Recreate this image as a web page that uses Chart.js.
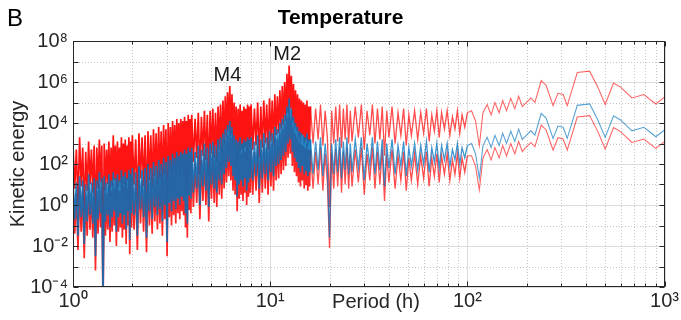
<!DOCTYPE html>
<html>
<head>
<meta charset="utf-8">
<script src="https://cdn.jsdelivr.net/npm/chart.js@4.4.1/dist/chart.umd.min.js"></script>
<style>
  html, body { margin: 0; padding: 0; background: #fff; }
  #wrap { width: 681px; height: 320px; }
</style>
</head>
<body>
<div id="wrap"><canvas id="c" width="681" height="320"></canvas></div>
<script>
// period (h) of each spectral estimate
const periods = [
  1, 1.02, 1.04, 1.06, 1.08, 1.1, 1.12, 1.14, 1.16, 1.18,
  1.2, 1.22, 1.24, 1.26, 1.28, 1.3, 1.32, 1.34, 1.36, 1.38,
  1.4, 1.42, 1.44, 1.46, 1.48, 1.5, 1.52, 1.54, 1.56, 1.58,
  1.6, 1.62, 1.64, 1.66, 1.68, 1.7, 1.72, 1.74, 1.76, 1.78,
  1.8, 1.82, 1.84, 1.86, 1.88, 1.9, 1.92, 1.94, 1.96, 1.98,
  2, 2.04, 2.08, 2.12, 2.16, 2.2, 2.24, 2.28, 2.32, 2.36,
  2.4, 2.44, 2.48, 2.52, 2.56, 2.6, 2.64, 2.68, 2.72, 2.76,
  2.8, 2.84, 2.88, 2.92, 2.96, 3, 3.04, 3.08, 3.12, 3.16,
  3.2, 3.24, 3.28, 3.32, 3.36, 3.4, 3.44, 3.48, 3.52, 3.56,
  3.6, 3.64, 3.68, 3.72, 3.76, 3.8, 3.84, 3.88, 3.92, 3.96,
  4, 4.08, 4.16, 4.24, 4.32, 4.4, 4.48, 4.56, 4.64, 4.72,
  4.8, 4.88, 4.96, 5.04, 5.12, 5.2, 5.28, 5.36, 5.44, 5.52,
  5.6, 5.68, 5.76, 5.84, 5.92, 6, 6.08, 6.16, 6.24, 6.32,
  6.4, 6.48, 6.56, 6.64, 6.72, 6.8, 6.88, 6.96, 7.04, 7.12,
  7.2, 7.28, 7.36, 7.44, 7.52, 7.6, 7.68, 7.76, 7.84, 7.92,
  8, 8.16, 8.32, 8.48, 8.64, 8.8, 8.96, 9.12, 9.28, 9.44,
  9.6, 9.76, 9.92, 10.08, 10.24, 10.4, 10.56, 10.72, 10.88, 11.04,
  11.2, 11.36, 11.52, 11.68, 11.84, 12, 12.16, 12.32, 12.48, 12.64,
  12.8, 12.96, 13.12, 13.28, 13.44, 13.6, 13.76, 13.92, 14.08, 14.24,
  14.4, 14.56, 14.72, 14.88, 15.04, 15.2, 15.36, 15.52, 15.68, 15.84,
  16, 16.5, 17, 17.5, 18, 18.5, 19, 19.5, 20, 20.5,
  21, 21.5, 22, 22.5, 23, 23.5, 24, 24.5, 25, 25.5,
  26, 27, 28, 29, 30, 31, 32, 33, 34, 35,
  36, 37, 38, 39, 40, 41.5, 43, 44.5, 46, 47.5,
  49, 50.5, 52, 54, 56, 58, 60, 62, 64, 66,
  68, 70, 72, 74, 76.5, 79, 81.5, 84, 86.5, 89,
  91.5, 94, 97, 100,
  105, 110, 115, 120, 126, 132, 138, 145, 151, 158,
  166, 174, 182, 190, 196, 210, 220, 237, 251, 272,
  288, 306, 321, 361, 417, 459, 500, 551, 598, 683,
  785, 903, 1000
];

// log10 of kinetic energy: spectrum (blue)
const spectrumLog = [
  1.3, -0.7, 1.1, -1.5, 1.4, -0.6, 1.2, -1.9, 1.0, -0.8,
  1.5, -0.5, 1.1, -0.9, 1.3, -2.5, 1.2, -0.7, 1.6, -0.4,
  1.3, -4.5, 1.4, -0.8, 1.1, -0.5, 1.5, -1.1, 1.2, -0.6,
  1.6, -0.3, 1.3, -1.3, 1.5, -0.6, 1.2, -0.4, 1.7, -0.9,
  1.4, -0.5, 1.6, -1.2, 1.3, -0.3, 1.7, -1.7, 1.5, -0.4,
  1.8, -0.5, 1.6, -1.5, 1.9, -0.2, 1.7, -0.6, 1.8, -1.6,
  2.0, -0.3, 1.8, -0.7, 2.1, -0.1, 1.9, -0.5, 2.2, -0.2,
  2.0, -0.8, 2.3, 0.0, 2.1, -1.8, 2.4, 0.1, 2.2, -0.3,
  2.5, 0.2, 2.3, -0.2, 2.6, 0.3, 2.4, 0.0, 2.6, 0.4,
  2.5, 0.2, 2.7, -0.4, 2.5, -0.9, 2.8, 0.5, 2.6, 0.3,
  2.8, 0.6, 2.6, 0.8, 2.9, 0.0, 2.7, 0.9, 3.0, 0.7,
  2.8, -0.1, 3.0, 1.0, 3.1, 0.8, 2.9, 0.6, 3.2, 1.2,
  3.3, 1.0, 3.5, 1.5, 3.7, 1.8, 3.9, 2.1, 4.1, 1.9,
  3.8, 1.4, 3.4, 1.2, 3.2, 0.4, 3.1, 1.0, 3.3, 1.2,
  3.0, 0.9, 3.2, 1.3, 3.1, 0.7, 3.3, 1.1, 3.2, 1.3,
  3.3, 1.2, 3.1, 1.4, 3.4, 0.8, 3.2, 1.3, 3.5, 1.5,
  3.3, 1.2, 3.6, 1.6, 3.5, 1.4, 3.8, 1.9, 3.7, 2.0,
  4.0, 2.2, 4.2, 2.4, 4.4, 2.6, 4.8, 3.0, 5.2, 3.2,
  4.7, 2.6, 4.3, 2.3, 4.0, 2.1, 3.8, 1.8, 3.6, 1.6,
  3.5, 1.9, 3.4, 1.5, 3.3, 1.7, 3.5, 1.4, 3.2, 1.6,
  3.2, 1.5, 3.1, 1.7, 3.3, 1.4, 3.0, 1.8, -1.6, 3.0,
  1.5, 3.2, 1.6, 3.3, 1.3, 3.1, 1.7, 3.3, 1.5, 3.0,
  1.6, 3.2, 1.8, 3.3, 1.2, 3.0, 1.9, 3.3, 1.5, 3.1,
  1.7, 3.2, 0.9, 3.0, 1.8, 3.2, 1.5, 2.9, 1.9, 3.1,
  1.4, 2.8, 1.9, 3.0, 1.7, 2.9, 2.0, 3.1, 1.6, 2.8,
  2.1, 3.0, 1.8, 2.9, 2.2, 3.0, 1.9, 2.7, 2.2, 3.0,
  2.0, 2.8, 2.3, 2.9,
  3.0, 2.5, 1.3, 2.9, 3.3, 2.8, 3.4, 2.9, 3.5, 3.0,
  3.6, 3.1, 3.7, 3.2, 3.33, 3.62, 3.41, 4.47, 4.23, 3.25,
  3.85, 3.79, 3.25, 4.86, 4.93, 4.15, 3.30, 4.35, 4.15, 3.62,
  3.79, 3.33, 3.66
];

// log10 of upper confidence bound (red)
const upperLog = [
  2.9, 0.8, 2.7, 0.0, 3.3, 0.9, 2.8, -0.4, 2.6, 0.7,
  3.1, 1.0, 2.7, 0.6, 2.9, -1.0, 2.8, 0.8, 3.2, 1.1,
  2.9, -3.0, 3.0, 0.7, 2.7, 1.0, 3.1, 0.4, 2.8, 0.9,
  3.4, 1.2, 2.9, 0.2, 3.1, 0.9, 2.8, 1.1, 3.3, 0.6,
  3.0, 1.0, 3.2, 0.3, 2.9, 1.2, 3.3, -0.2, 3.1, 1.1,
  3.4, 1.0, 3.2, 0.0, 3.5, 1.3, 3.3, 0.9, 3.4, -0.1,
  3.6, 1.2, 3.4, 0.8, 3.7, 1.4, 3.5, 1.0, 3.8, 1.3,
  3.6, 0.7, 3.9, 1.5, 3.7, -0.3, 4.0, 1.6, 3.8, 1.2,
  4.1, 1.7, 3.9, 1.3, 4.2, 1.8, 4.0, 1.5, 4.2, 1.9,
  4.1, 1.7, 4.3, 1.1, 4.1, 0.6, 4.4, 2.0, 4.2, 1.8,
  4.4, 2.1, 4.2, 2.3, 4.5, 1.5, 4.3, 2.4, 4.6, 2.2,
  4.4, 1.4, 4.6, 2.5, 4.7, 2.3, 4.5, 2.1, 4.8, 2.7,
  4.9, 2.5, 5.1, 3.0, 5.3, 3.3, 5.5, 3.6, 5.8, 3.4,
  5.4, 2.9, 5.0, 2.7, 4.8, 1.9, 4.7, 2.5, 4.9, 2.7,
  4.6, 2.4, 4.8, 2.8, 4.7, 2.2, 4.9, 2.6, 4.8, 2.8,
  4.9, 2.7, 4.7, 2.9, 5.0, 2.3, 4.8, 2.8, 5.1, 3.0,
  4.9, 2.7, 5.2, 3.1, 5.1, 2.9, 5.4, 3.4, 5.3, 3.5,
  5.6, 3.7, 5.8, 3.9, 6.0, 4.1, 6.4, 4.5, 6.8, 4.7,
  6.3, 4.1, 5.9, 3.8, 5.6, 3.6, 5.4, 3.3, 5.2, 3.1,
  5.1, 3.4, 5.0, 3.0, 4.9, 3.2, 5.1, 2.9, 4.8, 3.1,
  4.8, 3.0, 4.7, 3.2, 4.9, 2.9, 4.6, 3.3, -0.1, 4.6,
  3.0, 4.8, 3.1, 4.9, 2.8, 4.7, 3.2, 4.9, 3.0, 4.6,
  3.1, 4.8, 3.3, 4.9, 2.7, 4.6, 3.4, 4.9, 3.0, 4.7,
  3.2, 4.8, 2.4, 4.6, 3.3, 4.8, 3.0, 4.5, 3.4, 4.7,
  2.9, 4.4, 3.4, 4.6, 3.2, 4.5, 3.5, 4.7, 3.1, 4.4,
  3.6, 4.6, 3.3, 4.5, 3.7, 4.6, 3.4, 4.3, 3.7, 4.6,
  3.5, 4.4, 3.8, 4.5,
  4.6, 4.1, 2.9, 4.5, 4.9, 4.4, 5.0, 4.5, 5.1, 4.6,
  5.2, 4.7, 5.3, 4.8, 4.93, 5.22, 5.01, 6.07, 5.83, 4.85,
  5.45, 5.39, 4.85, 6.46, 6.53, 5.75, 4.9, 5.95, 5.75, 5.22,
  5.39, 4.93, 5.26
];

// log10 of lower confidence bound (red)
const lowerLog = [
  0.8, -1.4, 0.6, -2.2, 0.9, -1.3, 0.7, -2.6, 0.5, -1.5,
  1.0, -1.2, 0.6, -1.6, 0.8, -3.2, 0.7, -1.4, 1.1, -1.1,
  0.8, -5.2, 0.9, -1.5, 0.6, -1.2, 1.0, -1.8, 0.7, -1.3,
  1.1, -1.0, 0.8, -2.0, 1.0, -1.3, 0.7, -1.1, 1.2, -1.6,
  0.9, -1.2, 1.1, -1.9, 0.8, -1.0, 1.2, -2.4, 1.0, -1.1,
  1.3, -1.2, 1.1, -2.2, 1.4, -0.9, 1.2, -1.3, 1.3, -2.3,
  1.5, -1.0, 1.3, -1.4, 1.6, -0.8, 1.4, -1.2, 1.7, -0.9,
  1.5, -1.5, 1.8, -0.7, 1.6, -2.5, 1.9, -0.6, 1.7, -1.0,
  2.0, -0.5, 1.8, -0.9, 2.1, -0.4, 1.9, -0.7, 2.1, -0.3,
  2.0, -0.5, 2.2, -1.1, 2.0, -1.6, 2.3, -0.2, 2.1, -0.4,
  2.3, -0.1, 2.1, 0.1, 2.4, -0.7, 2.2, 0.2, 2.5, 0.0,
  2.3, -0.8, 2.5, 0.3, 2.6, 0.1, 2.4, -0.1, 2.7, 0.5,
  2.8, 0.3, 3.0, 0.8, 3.2, 1.1, 3.4, 1.4, 3.6, 1.2,
  3.3, 0.7, 2.9, 0.5, 2.7, -0.3, 2.6, 0.3, 2.8, 0.5,
  2.5, 0.2, 2.7, 0.6, 2.6, 0.0, 2.8, 0.4, 2.7, 0.6,
  2.8, 0.5, 2.6, 0.7, 2.9, 0.1, 2.7, 0.6, 3.0, 0.8,
  2.8, 0.5, 3.1, 0.9, 3.0, 0.7, 3.3, 1.2, 3.2, 1.3,
  3.5, 1.5, 3.7, 1.7, 3.9, 1.9, 4.3, 2.3, 4.7, 2.5,
  4.2, 1.9, 3.8, 1.6, 3.5, 1.4, 3.3, 1.1, 3.1, 0.9,
  3.0, 1.2, 2.9, 0.8, 2.8, 1.0, 3.0, 0.7, 2.7, 0.9,
  2.7, 0.8, 2.6, 1.0, 2.8, 0.7, 2.5, 1.1, -2.1, 2.5,
  0.8, 2.7, 0.9, 2.8, 0.6, 2.6, 1.0, 2.8, 0.8, 2.5,
  0.9, 2.7, 1.1, 2.8, 0.5, 2.5, 1.2, 2.8, 0.8, 2.6,
  1.0, 2.7, 0.2, 2.5, 1.1, 2.7, 0.8, 2.4, 1.2, 2.6,
  0.7, 2.3, 1.2, 2.5, 1.0, 2.4, 1.3, 2.6, 0.9, 2.3,
  1.4, 2.5, 1.1, 2.4, 1.5, 2.5, 1.2, 2.2, 1.5, 2.5,
  1.3, 2.3, 1.6, 2.4,
  2.4, 1.9, 0.73, 2.3, 2.7, 2.2, 2.8, 2.3, 2.9, 2.4,
  3.0, 2.5, 3.1, 2.6, 2.76, 3.05, 2.84, 3.9, 3.66, 2.68,
  3.28, 3.22, 2.68, 4.29, 4.36, 3.58, 2.73, 3.78, 3.58, 3.05,
  3.22, 2.76, 3.09
];

const xTickValues = [1, 2, 3, 4, 5, 6, 7, 8, 9, 10, 20, 30, 40, 50, 60, 70, 80, 90,
  100, 200, 300, 400, 500, 600, 700, 800, 900, 1000];
const yTickExps = [-4, -3, -2, -1, 0, 1, 2, 3, 4, 5, 6, 7, 8];

// tidal peak labels: period (h), log10 position
const peakNames = ['M4', 'M2'];
const peakPeriods = [6.07, 12.2];
const peakLogY = [6.34, 7.32];

const FONT = "'Liberation Sans', Arial, Helvetica, sans-serif";
const SUP = {'-': '\u207B', '0': '\u2070', '1': '\u00B9', '2': '\u00B2', '3': '\u00B3',
  '4': '\u2074', '5': '\u2075', '6': '\u2076', '7': '\u2077', '8': '\u2078', '9': '\u2079'};
const pow10Label = e => '10' + String(e).split('').map(c => SUP[c]).join('');
const decadeOf = v => {
  const e = Math.round(Math.log10(v));
  return Math.abs(v - Math.pow(10, e)) / v < 1e-6 ? e : null;
};

const toPoints = logs => periods.map((p, i) => ({x: p, y: Math.pow(10, logs[i])}));

// short periods are overplotted in the original, so draw them heavier
const segStyle = (dense, mid, thin) => ({
  borderColor: ctx => ctx.p0.parsed.x < 16 ? dense : (ctx.p0.parsed.x < 100 ? mid : thin),
  borderWidth: ctx => ctx.p0.parsed.x < 16 ? 1.7 : (ctx.p0.parsed.x < 100 ? 1.3 : 1.1)
});

const frame = {
  id: 'frame',
  beforeDatasetsDraw(chart) {
    const {ctx, chartArea: a, scales: {x, y}} = chart;
    ctx.save();
    ctx.lineWidth = 1;
    xTickValues.forEach(v => {
      const px = Math.round(x.getPixelForValue(v)) + 0.5;
      const major = decadeOf(v) !== null;
      ctx.strokeStyle = major ? '#dcdcdc' : '#c6c6c6';
      ctx.setLineDash(major ? [] : [1, 2]);
      ctx.beginPath(); ctx.moveTo(px, a.top); ctx.lineTo(px, a.bottom); ctx.stroke();
    });
    yTickExps.forEach(e => {
      const py = Math.round(y.getPixelForValue(Math.pow(10, e))) + 0.5;
      const major = e % 2 === 0;
      ctx.strokeStyle = major ? '#dcdcdc' : '#c6c6c6';
      ctx.setLineDash(major ? [] : [1, 2]);
      ctx.beginPath(); ctx.moveTo(a.left, py); ctx.lineTo(a.right, py); ctx.stroke();
    });
    ctx.restore();
  },
  afterDatasetsDraw(chart) {
    const {ctx, chartArea: a, scales: {x, y}} = chart;
    ctx.save();
    ctx.strokeStyle = '#262626';
    ctx.lineWidth = 1;
    const L = Math.round(a.left) + 0.5, R = Math.round(a.right) - 0.5;
    const T = Math.round(a.top) + 0.5, B = Math.round(a.bottom) - 0.5;
    ctx.strokeRect(L, T, R - L, B - T);
    ctx.beginPath();
    xTickValues.forEach(v => {
      const px = Math.round(x.getPixelForValue(v)) + 0.5;
      const len = decadeOf(v) !== null ? 5 : 3;
      ctx.moveTo(px, B); ctx.lineTo(px, B - len);
      ctx.moveTo(px, T); ctx.lineTo(px, T + len);
    });
    yTickExps.forEach(e => {
      const py = Math.round(y.getPixelForValue(Math.pow(10, e))) + 0.5;
      ctx.moveTo(L, py); ctx.lineTo(L + 5, py);
      ctx.moveTo(R, py); ctx.lineTo(R - 5, py);
    });
    ctx.stroke();
    ctx.restore();
  },
  afterDraw(chart) {
    const {ctx, chartArea: a, scales: {x, y}} = chart;
    ctx.save();
    ctx.fillStyle = '#000';
    ctx.textBaseline = 'middle';
    ctx.textAlign = 'left';
    ctx.font = '24px ' + FONT;
    ctx.fillText('B', 7, 19);
    ctx.textAlign = 'center';
    ctx.font = 'bold 21px ' + FONT;
    ctx.fillText('Temperature', 340.5, 18);
    ctx.font = '20px ' + FONT;
    ctx.fillStyle = '#1a1a1a';
    peakNames.forEach((t, i) => {
      ctx.fillText(t, x.getPixelForValue(peakPeriods[i]), y.getPixelForValue(Math.pow(10, peakLogY[i])));
    });
    ctx.fillStyle = '#262626';
    ctx.fillText('Period (h)', 376, 302);
    ctx.translate(18, (a.top + a.bottom) / 2);
    ctx.rotate(-Math.PI / 2);
    ctx.fillText('Kinetic energy', 0, 0);
    ctx.restore();
  }
};

new Chart(document.getElementById('c'), {
  type: 'line',
  data: {
    datasets: [
      {
        label: 'Spectrum',
        data: toPoints(spectrumLog),
        order: 0,
        borderColor: 'rgba(0,114,189,0.75)',
        segment: segStyle('rgba(0,114,189,0.85)', 'rgba(0,114,189,0.75)', 'rgba(0,114,189,0.65)'),
        pointRadius: 0,
        tension: 0
      },
      {
        label: 'Lower bound',
        data: toPoints(lowerLog),
        order: 1,
        borderColor: 'rgba(255,0,0,0.7)',
        segment: segStyle('rgba(255,0,0,0.85)', 'rgba(255,0,0,0.7)', 'rgba(255,0,0,0.6)'),
        pointRadius: 0,
        tension: 0
      },
      {
        label: 'Upper bound',
        data: toPoints(upperLog),
        order: 2,
        borderColor: 'rgba(255,0,0,0.7)',
        segment: segStyle('rgba(255,0,0,0.92)', 'rgba(255,0,0,0.7)', 'rgba(255,0,0,0.6)'),
        pointRadius: 0,
        tension: 0
      }
    ]
  },
  options: {
    responsive: false,
    animation: false,
    layout: {padding: {top: 41, right: 14, left: 0, bottom: 0}},
    plugins: {legend: {display: false}, tooltip: {enabled: false}, title: {display: false}},
    scales: {
      x: {
        type: 'logarithmic',
        min: 1,
        max: 1000,
        afterBuildTicks: s => { s.ticks = xTickValues.map(v => ({value: v})); },
        afterFit: s => { s.height = 33; },
        grid: {display: false, drawTicks: false},
        border: {display: false},
        ticks: {
          autoSkip: false, maxRotation: 0, minRotation: 0, padding: 2,
          color: '#262626', font: {family: FONT, size: 20},
          callback: v => { const e = decadeOf(v); return e === null ? '' : pow10Label(e); }
        }
      },
      y: {
        type: 'logarithmic',
        min: 1e-4,
        max: 1e8,
        afterBuildTicks: s => { s.ticks = yTickExps.map(e => ({value: Math.pow(10, e)})); },
        afterFit: s => { s.width = 73; },
        grid: {display: false, drawTicks: false},
        border: {display: false},
        ticks: {
          autoSkip: false, padding: 5,
          color: '#262626', font: {family: FONT, size: 20},
          callback: v => { const e = decadeOf(v); return (e !== null && e % 2 === 0) ? pow10Label(e) : ''; }
        }
      }
    }
  },
  plugins: [frame]
});
</script>
</body>
</html>
